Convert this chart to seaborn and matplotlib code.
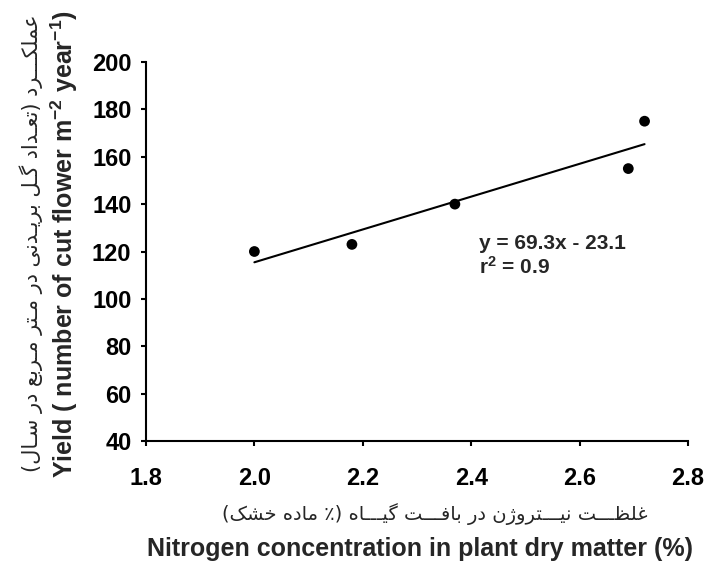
import matplotlib
matplotlib.use("Agg")
import matplotlib.pyplot as plt
import seaborn as sns
import pandas as pd
import numpy as np

# data
nitrogen = [2.00, 2.18, 2.37, 2.69, 2.72]
yield_flowers = [120, 123, 140, 155, 175]
x_ticks = [1.8, 2.0, 2.2, 2.4, 2.6, 2.8]
y_ticks = [40, 60, 80, 100, 120, 140, 160, 180, 200]

x_label_en = "Nitrogen concentration in plant dry matter (%)"
x_label_fa = "غلظـــت نیـــتروژن در بافـــت گیـــاه (٪ ماده خشک)"
y_label_en = "Yield ( number of cut flower m$^{-2}$ year$^{-1}$)"
y_label_fa = "عملکـــرد (تعـداد گـل بریـدنی در مـتر مـربع در سـال)"
eq_text = "y = 69.3x - 23.1\nr$^{2}$ = 0.9"

# minimal Persian shaping (matplotlib has no text shaping)
# letter: (isolated, final, initial, medial)
FORMS = {
    "ا": (0xFE8D, 0xFE8E, None, None),
    "ب": (0xFE8F, 0xFE90, 0xFE91, 0xFE92),
    "ت": (0xFE95, 0xFE96, 0xFE97, 0xFE98),
    "خ": (0xFEA5, 0xFEA6, 0xFEA7, 0xFEA8),
    "د": (0xFEA9, 0xFEAA, None, None),
    "ر": (0xFEAD, 0xFEAE, None, None),
    "ز": (0xFEAF, 0xFEB0, None, None),
    "ژ": (0xFB8A, 0xFB8B, None, None),
    "س": (0xFEB1, 0xFEB2, 0xFEB3, 0xFEB4),
    "ش": (0xFEB5, 0xFEB6, 0xFEB7, 0xFEB8),
    "ظ": (0xFEC5, 0xFEC6, 0xFEC7, 0xFEC8),
    "ع": (0xFEC9, 0xFECA, 0xFECB, 0xFECC),
    "غ": (0xFECD, 0xFECE, 0xFECF, 0xFED0),
    "ف": (0xFED1, 0xFED2, 0xFED3, 0xFED4),
    "ک": (0xFB8E, 0xFB8F, 0xFB90, 0xFB91),
    "گ": (0xFB92, 0xFB93, 0xFB94, 0xFB95),
    "ل": (0xFEDD, 0xFEDE, 0xFEDF, 0xFEE0),
    "م": (0xFEE1, 0xFEE2, 0xFEE3, 0xFEE4),
    "ن": (0xFEE5, 0xFEE6, 0xFEE7, 0xFEE8),
    "ه": (0xFEE9, 0xFEEA, 0xFEEB, 0xFEEC),
    "و": (0xFEED, 0xFEEE, None, None),
    "ی": (0xFBFC, 0xFBFD, 0xFBFE, 0xFBFF),
}
TATWEEL = "ـ"
MIRROR = {"(": ")", ")": "("}


def joins_left(c):
    # can connect to the following letter
    return c == TATWEEL or (c in FORMS and FORMS[c][2] is not None)


def joins(c):
    return c == TATWEEL or c in FORMS


def shape_fa(text):
    out = []
    for i, c in enumerate(text):
        if c not in FORMS:
            out.append(MIRROR.get(c, c))
            continue
        prev_c = text[i - 1] if i > 0 else ""
        next_c = text[i + 1] if i + 1 < len(text) else ""
        p = bool(prev_c) and joins_left(prev_c)
        n = joins_left(c) and bool(next_c) and joins(next_c)
        iso, fin, ini, med = FORMS[c]
        if p and n:
            code = med
        elif p:
            code = fin
        elif n:
            code = ini
        else:
            code = iso
        out.append(chr(code))
    return "".join(reversed(out))


sns.set_style("ticks")
plt.rcParams["font.family"] = ["Liberation Sans", "DejaVu Sans"]
plt.rcParams["mathtext.fontset"] = "custom"
plt.rcParams["mathtext.rm"] = "Liberation Sans:bold"
plt.rcParams["mathtext.bf"] = "Liberation Sans:bold"
plt.rcParams["mathtext.it"] = "Liberation Sans:bold"
plt.rcParams["mathtext.default"] = "bf"

df = pd.DataFrame({"nitrogen": nitrogen, "yield": yield_flowers})

fig = plt.figure(figsize=(7.07, 5.66), dpi=100)
ax = fig.add_axes([0.2065, 0.2208, 0.7665, 0.6697])

sns.regplot(data=df, x="nitrogen", y="yield", ci=None, ax=ax,
            scatter_kws={"s": 60, "color": "black", "edgecolor": "none", "alpha": 1},
            line_kws={"color": "black", "linewidth": 1.5})

ax.set_xlim(1.8, 2.8)
ax.set_ylim(40, 200)
ax.set_xticks(x_ticks)
ax.set_yticks(y_ticks)
ax.set_xticklabels([f"{v:.1f}" for v in x_ticks], fontsize=17, fontweight="bold")
ax.set_yticklabels([str(v) for v in y_ticks], fontsize=17, fontweight="bold")
ax.tick_params(axis="y", direction="out", length=3.5, width=1.5, pad=7, colors="black")
ax.tick_params(axis="x", direction="out", length=3.5, width=1.5, pad=15, colors="black")
sns.despine(ax=ax)
for side in ["left", "bottom"]:
    ax.spines[side].set_linewidth(1.5)
    ax.spines[side].set_color("black")
ax.set_xlabel("")
ax.set_ylabel("")

ax.text(2.415, 127.5, eq_text, fontsize=15, fontweight="bold", va="top", ha="left",
        linespacing=1.15)

# axis titles (English bold + Persian)
fig.text(0.594, 1 - 549 / 566, x_label_en, fontsize=18, fontweight="bold",
         ha="center", va="center")
fig.text(0.615, 1 - 514 / 566, shape_fa(x_label_fa), fontsize=14, ha="center",
         va="center", family=["DejaVu Sans"])
fig.text(64 / 707, 1 - 244 / 566, y_label_en, fontsize=18, fontweight="bold",
         rotation=90, ha="center", va="center")
fig.text(31 / 707, 1 - 243 / 566, shape_fa(y_label_fa), fontsize=15, rotation=90,
         ha="center", va="center", family=["DejaVu Sans"])

fig.savefig("out.png", dpi=100)
